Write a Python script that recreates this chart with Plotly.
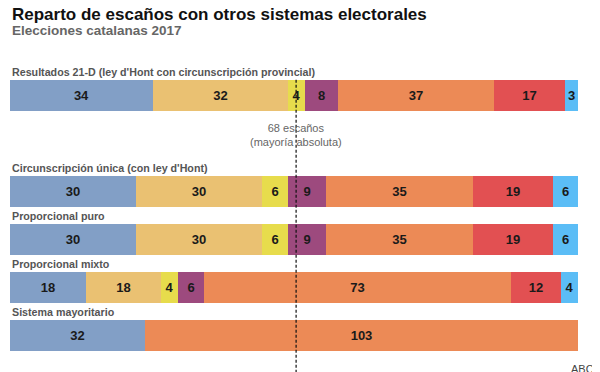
import plotly.graph_objects as go

rows = ["Resultados 21-D (ley d'Hont con circunscripción provincial)",
        "Circunscripción única (con ley d'Hont)",
        "Proporcional puro",
        "Proporcional mixto",
        "Sistema mayoritario"]
row_pos = [0, 2, 3, 4, 5]

s1 = [34, 30, 30, 18, 32]
s2 = [32, 30, 30, 18, None]
s3 = [4, 6, 6, 4, None]
s4 = [8, 9, 9, 6, None]
s5 = [37, 35, 35, 73, 103]
s6 = [17, 19, 19, 12, None]
s7 = [3, 6, 6, 4, None]
series = [s1, s2, s3, s4, s5, s6, s7]
colors = ["#829fc6", "#eac172", "#e7dc4c", "#9d4a7e", "#ec8a56", "#e25052", "#5bbdf6"]

majority = 68
total = 135

FONT = "Liberation Sans, Arial"
OFF = 8  # page offset of the figure
c0 = 95.5 - OFF
px = 48.0

fig = go.Figure()
for vals, col in zip(series, colors):
    fig.add_trace(go.Bar(
        y=row_pos, x=vals, orientation="h", marker=dict(color=col, line=dict(width=0)),
        width=0.66,
        text=[("" if v is None else str(v)) for v in vals],
        textposition="inside", insidetextanchor="middle", constraintext="none",
        insidetextfont=dict(family=FONT, size=13, color="#1a1a1a", weight="bold"),
        hoverinfo="skip", showlegend=False, cliponaxis=False,
    ))

top_v = -c0 / px
bot_v = (372 - c0) / px

fig.add_shape(type="line", xref="x", yref="y", x0=majority, x1=majority,
              y0=-0.33, y1=bot_v, line=dict(color="#111", width=1.2, dash="3px,2px"))

fig.add_annotation(x=majority, y=(135 - 95.5) / px, xref="x", yref="y",
                   text="68 escaños<br>(mayoría absoluta)", showarrow=False,
                   font=dict(family=FONT, size=11, color="#666"),
                   xanchor="center", yanchor="middle", align="center")

for r, p in zip(rows, row_pos):
    fig.add_annotation(x=0, y=p - 0.485, xref="x", yref="y", text="<b>" + r + "</b>",
                       showarrow=False, xanchor="left", yanchor="middle",
                       font=dict(family=FONT, size=10.7, color="#555"))

fig.add_annotation(x=0, y=1.0, xref="paper", yref="paper", yshift=5,
                   text="<b>Reparto de escaños con otros sistemas electorales</b>",
                   showarrow=False, xanchor="left", yanchor="top",
                   font=dict(family=FONT, size=17, color="#111"))
fig.add_annotation(x=0, y=1.0, xref="paper", yref="paper", yshift=-13,
                   text="<b>Elecciones catalanas 2017</b>",
                   showarrow=False, xanchor="left", yanchor="top",
                   font=dict(family=FONT, size=13.5, color="#666"))
fig.add_annotation(x=0.984, y=0.0, xref="paper", yref="paper", yshift=3,
                   text="ABC", showarrow=False, xanchor="left", yanchor="bottom",
                   font=dict(family=FONT, size=11, color="#444"))

fig.update_layout(
    width=600, height=372, barmode="stack", bargap=0,
    margin=dict(l=2, r=30, t=0, b=0),
    paper_bgcolor="white", plot_bgcolor="white",
    xaxis=dict(range=[0, total], visible=False, fixedrange=True),
    yaxis=dict(range=[bot_v, top_v], visible=False, fixedrange=True),
)

fig.write_html("out.html")
